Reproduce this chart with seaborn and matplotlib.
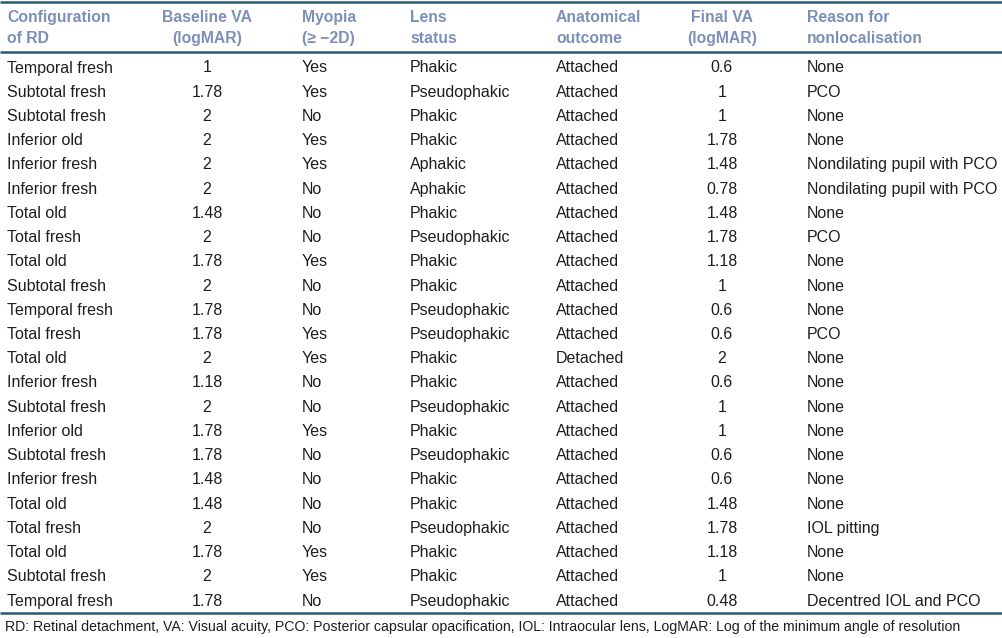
import matplotlib
matplotlib.use('Agg')
import matplotlib.pyplot as plt
import seaborn as sns

sns.set_style('white')
plt.rcParams['font.family'] = ['Liberation Sans', 'DejaVu Sans']

# column headers
headers = ['Configuration\nof RD', 'Baseline VA\n(logMAR)', 'Myopia\n(\u2265 \u22122D)', 'Lens\nstatus',
           'Anatomical\noutcome', 'Final VA\n(logMAR)', 'Reason for\nnonlocalisation']

# table data
configuration = ['Temporal fresh', 'Subtotal fresh', 'Subtotal fresh', 'Inferior old', 'Inferior fresh',
                 'Inferior fresh', 'Total old', 'Total fresh', 'Total old', 'Subtotal fresh', 'Temporal fresh',
                 'Total fresh', 'Total old', 'Inferior fresh', 'Subtotal fresh', 'Inferior old', 'Subtotal fresh',
                 'Inferior fresh', 'Total old', 'Total fresh', 'Total old', 'Subtotal fresh', 'Temporal fresh']
baseline_va = ['1', '1.78', '2', '2', '2', '2', '1.48', '2', '1.78', '2', '1.78', '1.78', '2', '1.18', '2',
               '1.78', '1.78', '1.48', '1.48', '2', '1.78', '2', '1.78']
myopia = ['Yes', 'Yes', 'No', 'Yes', 'Yes', 'No', 'No', 'No', 'Yes', 'No', 'No', 'Yes', 'Yes', 'No', 'No',
          'Yes', 'No', 'No', 'No', 'No', 'Yes', 'Yes', 'No']
lens_status = ['Phakic', 'Pseudophakic', 'Phakic', 'Phakic', 'Aphakic', 'Aphakic', 'Phakic', 'Pseudophakic',
               'Phakic', 'Phakic', 'Pseudophakic', 'Pseudophakic', 'Phakic', 'Phakic', 'Pseudophakic', 'Phakic',
               'Pseudophakic', 'Phakic', 'Phakic', 'Pseudophakic', 'Phakic', 'Phakic', 'Pseudophakic']
outcome = ['Attached'] * 12 + ['Detached'] + ['Attached'] * 10
final_va = ['0.6', '1', '1', '1.78', '1.48', '0.78', '1.48', '1.78', '1.18', '1', '0.6', '0.6', '2', '0.6',
            '1', '1', '0.6', '0.6', '1.48', '1.78', '1.18', '1', '0.48']
reason = ['None', 'PCO', 'None', 'None', 'Nondilating pupil with PCO', 'Nondilating pupil with PCO', 'None',
          'PCO', 'None', 'None', 'None', 'PCO', 'None', 'None', 'None', 'None', 'None', 'None', 'None',
          'IOL pitting', 'None', 'None', 'Decentred IOL and PCO']

footnote = ('RD: Retinal detachment, VA: Visual acuity, PCO: Posterior capsular opacification, '
            'IOL: Intraocular lens, LogMAR: Log of the minimum angle of resolution')

columns = [configuration, baseline_va, myopia, lens_status, outcome, final_va, reason]
col_x = [7, 207, 302, 410, 556, 722, 807]
col_ha = ['left', 'center', 'left', 'left', 'left', 'center', 'left']

fig = plt.figure(figsize=(10.02, 6.38), dpi=100)
ax = fig.add_axes([0, 0, 1, 1])
ax.set_xlim(0, 1002)
ax.set_ylim(638, 0)
ax.axis('off')

line_col = '#2b5a74'
head_col = '#7d8fb9'
text_col = '#1e1e1e'

ax.hlines([1.5, 52, 613], 0, 1002, colors=line_col, linewidth=1.8)

for h, x, ha in zip(headers, col_x, col_ha):
    ax.text(x, 28, h, ha=ha, va='center', fontsize=11.3, fontweight='bold', color=head_col, linespacing=1.55)

y0, dy = 68, 24.23
for col, x, ha in zip(columns, col_x, col_ha):
    for i, val in enumerate(col):
        ax.text(x, y0 + i * dy, val, ha=ha, va='center', fontsize=11.5, color=text_col)

ax.text(5, 627, footnote, ha='left', va='center', fontsize=10.2, color=text_col)

fig.savefig('out.png', dpi=100)
